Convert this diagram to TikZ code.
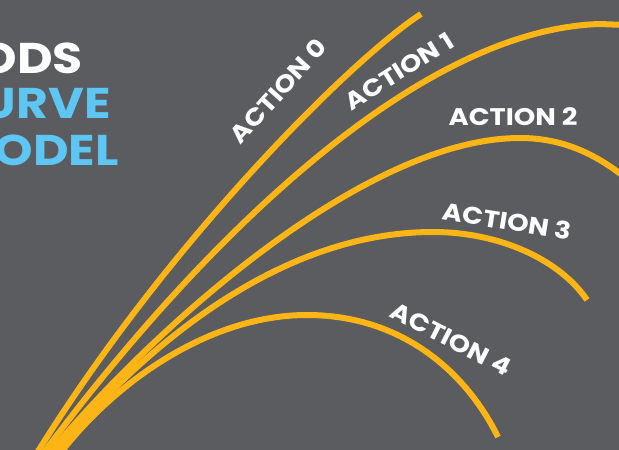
\documentclass[tikz,border=0pt]{standalone}
\usepackage{fontspec}
\setmainfont{Poppins}[FakeStretch=1.14]
\definecolor{bg}{RGB}{90,92,95}
\definecolor{amber}{RGB}{252,181,20}
\definecolor{sky}{RGB}{93,198,242}
\begin{document}
\begin{tikzpicture}[x=1pt,y=-1pt,
  curve/.style={draw=amber,line width=6pt},
  lbl/.style={text=white,font=\bfseries\fontsize{24}{24}\selectfont,inner sep=0pt},
  ttl/.style={font=\bfseries\fontsize{43}{43}\selectfont,inner sep=0pt,anchor=base east}]
\useasboundingbox (0,0) rectangle (619,450);
\fill[bg] (0,0) rectangle (619,450);
\clip (0,0) rectangle (619,450);
% title fragments
\node[ttl,text=white] (t1) at (83,73) {ODS};
\node[ttl,text=sky] (t2) at (111,118) {URVE};
\node[ttl,text=sky] (t3) at (119,165) {ODEL};
% curves
\coordinate (s0) at (29,466);
\coordinate (s1) at (34,466);
\coordinate (s2) at (39,466);
\coordinate (s3) at (44,466);
\coordinate (s4) at (51,466);
\draw[curve] (s0) .. controls (160,250) and (350,60) .. (421,14);
\draw[curve] (s1) .. controls (170,280) and (400,30) .. (600,24) -- (650,26);
\draw[curve] (s2) .. controls (140,340) and (360,138) .. (520,138) .. controls (570,138) and (610,160) .. (650,200);
\draw[curve] (s3) .. controls (130,360) and (270,232) .. (433,232) .. controls (500,232) and (560,260) .. (587,300);
\draw[curve] (s4) .. controls (100,395) and (200,315) .. (307,315) .. controls (400,315) and (465,370) .. (498,437);
% labels
\node[lbl,rotate=48] (a0) at (278,91) {ACTION 0};
\node[lbl,rotate=32] (a1) at (399,71) {ACTION 1};
\node[lbl] (a2) at (513,117) {ACTION 2};
\node[lbl,rotate=-9] (a3) at (507,221) {ACTION 3};
\node[lbl,rotate=-27] (a4) at (451,339) {ACTION 4};
\end{tikzpicture}
\end{document}
